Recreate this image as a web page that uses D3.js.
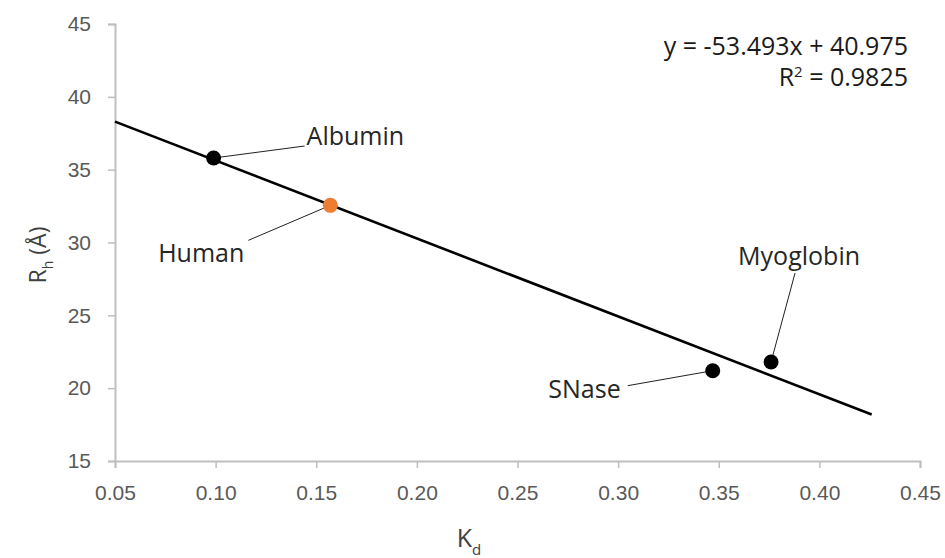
<!DOCTYPE html>
<html>
<head>
<meta charset="utf-8">
<script src="https://cdn.jsdelivr.net/npm/d3@7"></script>
<style>
  body { margin: 0; background: #fff; }
  svg { display: block; font-family: "Open Sans", "Noto Sans", sans-serif; }
</style>
</head>
<body>
<svg id="chart" width="945" height="558"></svg>
<script>
// protein data (Kd vs hydrodynamic radius)
const proteins = ['Albumin', 'Human', 'SNase', 'Myoglobin'];
const kd = [0.099, 0.157, 0.347, 0.376];
const rh = [35.8, 32.55, 21.2, 21.8];
const pointColors = ['#000000', '#ed7d31', '#000000', '#000000'];

// linear fit shown on chart
const slope = -53.493, intercept = 40.975, r2 = 0.9825;
const fitRange = [0.05, 0.426];

const xTicks = [0.05, 0.10, 0.15, 0.20, 0.25, 0.30, 0.35, 0.40, 0.45];
const yTicks = [15, 20, 25, 30, 35, 40, 45];

// callout placement (pixel offsets from point): line end + label anchor
const callouts = [
    {dx: 91, dy: -12, tx: 93, ty: -13, anchor: 'start'},
    {dx: -82, dy: 35, tx: -86, ty: 57, anchor: 'end'},
    {dx: -85, dy: 15, tx: -92, ty: 27, anchor: 'end'},
    {dx: 24, dy: -89, tx: 28, ty: -97, anchor: 'middle'}
];

const svg = d3.select('#chart');
const x = d3.scaleLinear().domain([0.05, 0.45]).range([115, 920]);
const y = d3.scaleLinear().domain([15, 45]).range([461, 24]);

// axes
const xAxis = svg.append('g')
    .attr('transform', `translate(0,${y(15)})`)
    .call(d3.axisBottom(x).tickValues(xTicks).tickFormat(d3.format('.2f')).tickSizeOuter(0).tickSize(7).tickPadding(17));
const yAxis = svg.append('g')
    .attr('transform', `translate(${x(0.05)},0)`)
    .call(d3.axisLeft(y).tickValues(yTicks).tickSizeOuter(0).tickSize(7).tickPadding(17));

[xAxis, yAxis].forEach(ax => {
    ax.select('.domain').attr('stroke', '#bfbfbf').attr('stroke-width', 2);
    ax.selectAll('.tick line').attr('stroke', '#bfbfbf').attr('stroke-width', 1.5);
    ax.selectAll('.tick text')
        .attr('fill', '#595959')
        .style('font-size', '21px');
});

// axis titles
const xt = svg.append('text')
    .attr('x', 469).attr('y', 547)
    .attr('text-anchor', 'middle')
    .attr('fill', '#404040')
    .style('font-size', '25px');
xt.append('tspan').text('K');
xt.append('tspan').attr('dy', 8).style('font-size', '15px').text('d');

const yt = svg.append('text')
    .attr('transform', 'translate(46,255) rotate(-90)')
    .attr('text-anchor', 'middle')
    .attr('fill', '#404040')
    .style('font-size', '23px');
yt.append('tspan').text('R');
yt.append('tspan').attr('dy', 7).style('font-size', '14px').text('h');
yt.append('tspan').attr('dy', -7).text(' (Å)');

// trend line
const line = d3.line().x(d => x(d)).y(d => y(slope * d + intercept));
svg.append('path')
    .attr('d', line(fitRange))
    .attr('fill', 'none')
    .attr('stroke', '#000')
    .attr('stroke-width', 2.6);

// callout lines + labels
proteins.forEach((name, i) => {
    let px = x(kd[i]), py = y(rh[i]), c = callouts[i];
    svg.append('line')
        .attr('x1', px).attr('y1', py)
        .attr('x2', px + c.dx).attr('y2', py + c.dy)
        .attr('stroke', '#222')
        .attr('stroke-width', 1);
    svg.append('text')
        .attr('x', px + c.tx).attr('y', py + c.ty)
        .attr('text-anchor', c.anchor)
        .attr('fill', '#262626')
        .style('font-size', '25px')
        .text(name);
});

// points
svg.selectAll('circle.pt')
    .data(proteins)
    .enter().append('circle')
    .attr('class', 'pt')
    .attr('cx', (d, i) => x(kd[i]))
    .attr('cy', (d, i) => y(rh[i]))
    .attr('r', 7.5)
    .attr('fill', (d, i) => pointColors[i]);

// equation
svg.append('text')
    .attr('x', 908).attr('y', 55)
    .attr('text-anchor', 'end')
    .attr('fill', '#1a1a1a')
    .style('font-size', '25px')
    .text(`y = ${slope}x + ${intercept}`);
const eq2 = svg.append('text')
    .attr('x', 908).attr('y', 86)
    .attr('text-anchor', 'end')
    .attr('fill', '#1a1a1a')
    .style('font-size', '25px');
eq2.append('tspan').text('R');
eq2.append('tspan').attr('dy', -9).style('font-size', '15px').text('2');
eq2.append('tspan').attr('dy', 9).text(` = ${r2}`);
</script>
</body>
</html>
